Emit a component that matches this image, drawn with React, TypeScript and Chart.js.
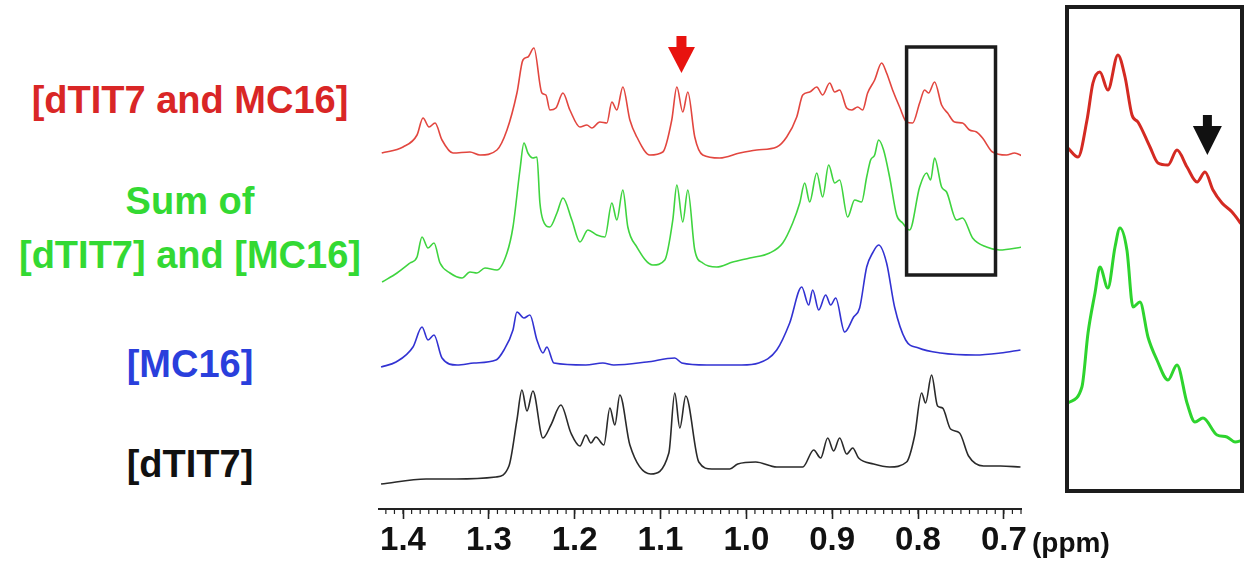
import React, { useEffect, useRef } from 'react';
import { Chart, registerables } from 'chart.js';

Chart.register(...registerables);

// ---------- Axis ----------
const axisRange = { min: 0.68, max: 1.428 };
const majorStep = 0.1;
const minorStep = 0.01;
const axisUnit = '(ppm)';

// ---------- Trace labels ----------
const traceLabels = [
  { lines: ['[dTIT7 and MC16]'], color: '#d92626', top: 81 },
  { lines: ['Sum of', '[dTIT7] and [MC16]'], color: '#33d933', top: 182 },
  { lines: ['[MC16]'], color: '#2a3fdc', top: 345 },
  { lines: ['[dTIT7]'], color: '#111111', top: 445 },
];

// stacking offsets (intensity units) for each trace
const traceOffsets = { red: 351, green: 227, blue: 142, black: 23 };

// ---------- [dTIT7 and MC16] (red) ----------
const redPpm = [1.4248, 1.4, 1.3837, 1.3767, 1.3697, 1.3627, 1.3546, 1.3418, 1.322, 1.3104, 1.2906, 1.2789, 1.2673, 1.2603, 1.2545, 1.2475, 1.2382, 1.2335, 1.2289, 1.2219, 1.2137, 1.2056, 1.1939, 1.1858, 1.18, 1.1707, 1.1625, 1.1567, 1.1509, 1.1439, 1.1357, 1.1276, 1.1125, 1.0973, 1.0869, 1.081, 1.0741, 1.0682, 1.0601, 1.0508, 1.031, 1.0077, 0.9879, 0.9646, 0.953, 0.9413, 0.9343, 0.9262, 0.918, 0.9111, 0.9029, 0.8971, 0.8913, 0.8831, 0.8773, 0.8703, 0.8645, 0.8587, 0.8505, 0.8424, 0.8366, 0.8296, 0.8214, 0.8133, 0.8063, 0.7981, 0.7923, 0.7877, 0.7807, 0.7725, 0.7655, 0.7574, 0.7481, 0.7399, 0.7318, 0.7248, 0.7132, 0.6969, 0.6875, 0.6782];
const redInt = [5, 11, 23, 40, 31, 35, 18, 5, 6, 3, 8, 28, 65, 98, 101, 110, 65, 63, 48, 50, 65, 48, 31, 33, 30, 36, 35, 56, 48, 71, 38, 21, 3, 6, 38, 71, 46, 66, 21, 3, 0, 5, 8, 11, 21, 41, 63, 66, 71, 63, 75, 66, 68, 50, 48, 51, 48, 65, 78, 95, 85, 68, 51, 36, 35, 55, 68, 65, 76, 53, 45, 36, 35, 28, 26, 20, 6, 3, 5, 2];

// ---------- Sum of [dTIT7] and [MC16] (green) ----------
const greenPpm = [1.4244, 1.407, 1.3919, 1.3837, 1.3779, 1.3709, 1.3639, 1.3569, 1.3453, 1.3313, 1.322, 1.3139, 1.3045, 1.2906, 1.2789, 1.2719, 1.2638, 1.2591, 1.2545, 1.2487, 1.244, 1.2405, 1.237, 1.2289, 1.2207, 1.2137, 1.2033, 1.1939, 1.1846, 1.1742, 1.1648, 1.1567, 1.1509, 1.1439, 1.1381, 1.1276, 1.109, 1.095, 1.0857, 1.081, 1.0741, 1.0682, 1.0601, 1.0508, 1.0345, 1.0158, 0.996, 0.9728, 0.9576, 0.946, 0.9378, 0.932, 0.9262, 0.918, 0.9111, 0.9041, 0.8971, 0.8913, 0.882, 0.8738, 0.8657, 0.8598, 0.8552, 0.8505, 0.8459, 0.8401, 0.8331, 0.8249, 0.8179, 0.8098, 0.7981, 0.79, 0.7853, 0.7807, 0.7725, 0.7667, 0.7551, 0.7481, 0.7364, 0.7201, 0.705, 0.6782];
const greenInt = [0, 9, 19, 25, 45, 34, 39, 19, 9, 4, 10, 9, 14, 12, 29, 55, 112, 139, 129, 124, 125, 79, 62, 55, 69, 84, 62, 40, 52, 47, 45, 79, 62, 92, 55, 35, 17, 22, 62, 97, 60, 92, 32, 19, 15, 20, 24, 29, 39, 59, 79, 99, 80, 109, 85, 117, 99, 102, 65, 82, 80, 105, 122, 127, 142, 132, 105, 67, 59, 52, 95, 109, 102, 124, 95, 90, 62, 64, 44, 35, 32, 35];

// ---------- [MC16] (blue) ----------
const bluePpm = [1.4256, 1.4081, 1.3884, 1.3779, 1.3709, 1.3639, 1.3546, 1.3371, 1.3173, 1.2917, 1.2824, 1.2719, 1.2673, 1.2591, 1.2522, 1.244, 1.237, 1.2324, 1.2242, 1.187, 1.1672, 1.1544, 1.116, 1.0834, 1.0752, 1.0461, 1.0054, 0.9856, 0.9646, 0.9495, 0.9355, 0.9274, 0.9227, 0.9157, 0.9076, 0.9017, 0.8959, 0.8855, 0.875, 0.868, 0.8598, 0.8529, 0.8459, 0.8366, 0.8273, 0.8144, 0.7993, 0.7737, 0.733, 0.7039, 0.6806];
const blueInt = [0, 5, 20, 40, 27, 32, 9, 2, 4, 7, 17, 37, 55, 49, 52, 27, 14, 20, 4, 2, 4, 2, 5, 9, 4, 2, 2, 4, 17, 44, 80, 62, 77, 57, 72, 62, 69, 35, 50, 59, 100, 114, 122, 104, 60, 27, 19, 14, 12, 14, 17];

// ---------- [dTIT7] (black) ----------
const blackPpm = [1.4256, 1.3732, 1.3383, 1.2917, 1.2766, 1.2673, 1.2615, 1.2556, 1.2487, 1.237, 1.2277, 1.2161, 1.2044, 1.1939, 1.187, 1.1811, 1.1753, 1.166, 1.159, 1.1532, 1.1474, 1.1357, 1.1113, 1.0903, 1.0834, 1.0775, 1.0706, 1.0554, 1.0403, 1.0193, 1.01, 0.9891, 0.9646, 0.9343, 0.9215, 0.9134, 0.9052, 0.8983, 0.8913, 0.8831, 0.8761, 0.8692, 0.8517, 0.8331, 0.8133, 0.804, 0.7958, 0.7912, 0.7842, 0.7772, 0.7714, 0.7621, 0.7516, 0.7411, 0.7236, 0.7039, 0.6806];
const blackInt = [2, 7, 7, 9, 20, 66, 96, 75, 95, 48, 61, 81, 53, 40, 51, 43, 49, 41, 78, 61, 91, 41, 12, 33, 93, 58, 90, 24, 17, 17, 22, 24, 19, 19, 36, 28, 48, 35, 48, 32, 38, 28, 22, 19, 24, 50, 93, 83, 111, 80, 78, 57, 53, 30, 20, 20, 19];

// ---------- Annotations ----------
const zoomWindow = [0.8133, 0.7097]; // ppm range of boxed region
const zoomBoxValues = [462, 234]; // top / bottom in stacked intensity units
const redArrow = { ppm: 1.0756, top: 473, tip: 436 };

// ---------- Inset (expanded boxed region) ----------
const insetRange = { min: 0.7111, max: 0.8118 };
const insetOffsets = { red: 259, green: 44 };
const insetRedPpm = [0.8124, 0.8065, 0.8012, 0.7977, 0.7936, 0.7889, 0.783, 0.7788, 0.7747, 0.7712, 0.7641, 0.7594, 0.7535, 0.7482, 0.7423, 0.7364, 0.7317, 0.727, 0.7217, 0.7158, 0.7099];
const insetRedInt = [82, 73, 110, 147, 158, 140, 175, 153, 115, 108, 83, 67, 65, 80, 63, 48, 58, 40, 27, 18, 5];
const insetGreenPpm = [0.8124, 0.8042, 0.8006, 0.7965, 0.7936, 0.7889, 0.7847, 0.7818, 0.7777, 0.7741, 0.77, 0.7653, 0.76, 0.7535, 0.7482, 0.7423, 0.7376, 0.7329, 0.7246, 0.7188, 0.714, 0.7093];
const insetGreenInt = [42, 58, 112, 152, 178, 157, 198, 217, 195, 138, 143, 108, 85, 65, 80, 42, 23, 27, 10, 8, 3, 5];
const blackArrow = { ppm: 0.7303, top: 374, tip: 334 };

const FONT = "'Liberation Sans', Arial, Helvetica, sans-serif";

function toPoints(ppm: number[], vals: number[], offset: number) {
  return ppm.map((p, i) => ({ x: p, y: vals[i] + offset }));
}

function drawArrow(ctx: CanvasRenderingContext2D, cx: number, top: number, tip: number,
  color: string, shaftW: number, headW: number, headLen: number) {
  const headStart = tip - headLen;
  ctx.fillStyle = color;
  ctx.beginPath();
  ctx.rect(cx - shaftW / 2, top, shaftW, headStart - top + 1);
  ctx.fill();
  ctx.beginPath();
  ctx.moveTo(cx - headW / 2, headStart);
  ctx.lineTo(cx + headW / 2, headStart);
  ctx.lineTo(cx, tip);
  ctx.closePath();
  ctx.fill();
}

const mainDecor = {
  id: 'mainDecor',
  afterDraw(chart: any) {
    const { ctx, chartArea } = chart;
    const x = chart.scales.x;
    const y = chart.scales.y;
    ctx.save();
    // minor ticks
    ctx.strokeStyle = '#222';
    ctx.lineWidth = 1.2;
    const lo = Math.ceil(axisRange.min / minorStep - 1e-6);
    const hi = Math.floor(axisRange.max / minorStep + 1e-6);
    for (let i = lo; i <= hi; i++) {
      const px = x.getPixelForValue(i * minorStep);
      ctx.beginPath();
      ctx.moveTo(px, chartArea.bottom);
      ctx.lineTo(px, chartArea.bottom + 5);
      ctx.stroke();
    }
    // boxed region
    const x1 = x.getPixelForValue(zoomWindow[0]);
    const x2 = x.getPixelForValue(zoomWindow[1]);
    const y1 = y.getPixelForValue(zoomBoxValues[0]);
    const y2 = y.getPixelForValue(zoomBoxValues[1]);
    ctx.lineWidth = 3.5;
    ctx.strokeStyle = '#1c1c1c';
    ctx.strokeRect(x1, y1, x2 - x1, y2 - y1);
    // red arrow
    drawArrow(ctx, x.getPixelForValue(redArrow.ppm), y.getPixelForValue(redArrow.top),
      y.getPixelForValue(redArrow.tip), '#e8130f', 10, 27, 26);
    ctx.restore();
  },
};

const insetDecor = {
  id: 'insetDecor',
  afterDraw(chart: any) {
    const { ctx } = chart;
    const x = chart.scales.x;
    const y = chart.scales.y;
    ctx.save();
    drawArrow(ctx, x.getPixelForValue(blackArrow.ppm), y.getPixelForValue(blackArrow.top),
      y.getPixelForValue(blackArrow.tip), '#111', 9, 29, 29);
    ctx.restore();
  },
};

function lineDs(data: any[], color: string, width: number) {
  return {
    data,
    borderColor: color,
    borderWidth: width,
    pointRadius: 0,
    fill: false,
    cubicInterpolationMode: 'monotone' as const,
  };
}

export default function App() {
  const mainRef = useRef<HTMLCanvasElement>(null);
  const insetRef = useRef<HTMLCanvasElement>(null);

  useEffect(() => {
    const main = new Chart(mainRef.current!, {
      type: 'line',
      data: {
        datasets: [
          lineDs(toPoints(redPpm, redInt, traceOffsets.red), '#e2463f', 1.6),
          lineDs(toPoints(greenPpm, greenInt, traceOffsets.green), '#3fd43f', 1.6),
          lineDs(toPoints(bluePpm, blueInt, traceOffsets.blue), '#3232d2', 1.6),
          lineDs(toPoints(blackPpm, blackInt, traceOffsets.black), '#2a2a2a', 1.6),
        ],
      },
      options: {
        animation: false,
        responsive: false,
        devicePixelRatio: 1,
        events: [],
        layout: { padding: { left: 30, right: 30, top: 0, bottom: 0 } },
        plugins: { legend: { display: false }, tooltip: { enabled: false } },
        scales: {
          x: {
            type: 'linear',
            reverse: true,
            min: axisRange.min,
            max: axisRange.max,
            afterFit: (s: any) => { s.height = 56; },
            border: { display: true, color: '#222', width: 2 },
            grid: { drawOnChartArea: false, drawTicks: true, tickLength: 10, tickColor: '#222', tickWidth: 1.6 },
            ticks: {
              stepSize: majorStep,
              includeBounds: false,
              autoSkip: false,
              maxRotation: 0,
              padding: 2,
              color: '#111',
              font: { family: FONT, size: 33, weight: 'bold' },
              callback: (v: any) => Number(v).toFixed(1),
            },
          },
          y: { type: 'linear', display: false, min: 0, max: 509 },
        },
      },
      plugins: [mainDecor],
    } as any);

    const inset = new Chart(insetRef.current!, {
      type: 'line',
      data: {
        datasets: [
          lineDs(toPoints(insetRedPpm, insetRedInt, insetOffsets.red), '#d42a22', 3),
          lineDs(toPoints(insetGreenPpm, insetGreenInt, insetOffsets.green), '#2ed42e', 3),
        ],
      },
      options: {
        animation: false,
        responsive: false,
        devicePixelRatio: 1,
        events: [],
        layout: { padding: 0 },
        plugins: { legend: { display: false }, tooltip: { enabled: false } },
        scales: {
          x: { type: 'linear', display: false, reverse: true, min: insetRange.min, max: insetRange.max },
          y: { type: 'linear', display: false, min: 0, max: 480 },
        },
      },
      plugins: [insetDecor],
    } as any);

    return () => {
      main.destroy();
      inset.destroy();
    };
  }, []);

  return (
    <div style={{ position: 'fixed', left: 0, top: 0, width: 1244, height: 565, background: '#fff', overflow: 'hidden' }}>
      {traceLabels.map((lab, i) => (
        <div key={i} style={{
          position: 'absolute', left: 0, width: 380, top: lab.top, textAlign: 'center',
          fontFamily: FONT, fontWeight: 'bold', fontSize: 38, color: lab.color,
        }}>
          {lab.lines.map((t, j) => <div key={j} style={{ lineHeight: '38px', marginBottom: j < lab.lines.length - 1 ? 16 : 0 }}>{t}</div>)}
        </div>
      ))}
      <canvas ref={mainRef} width={702} height={565} style={{ position: 'absolute', left: 349, top: 0 }} />
      <div style={{
        position: 'absolute', left: 1065, top: 5, width: 179, height: 488, boxSizing: 'border-box',
        border: '4px solid #1c1c1c',
      }}>
        <canvas ref={insetRef} width={171} height={480} style={{ display: 'block' }} />
      </div>
      <div style={{
        position: 'absolute', left: 1032, top: 529, fontFamily: FONT, fontWeight: 'bold',
        fontSize: 28, lineHeight: '28px', color: '#111', whiteSpace: 'nowrap',
      }}>{axisUnit}</div>
    </div>
  );
}
